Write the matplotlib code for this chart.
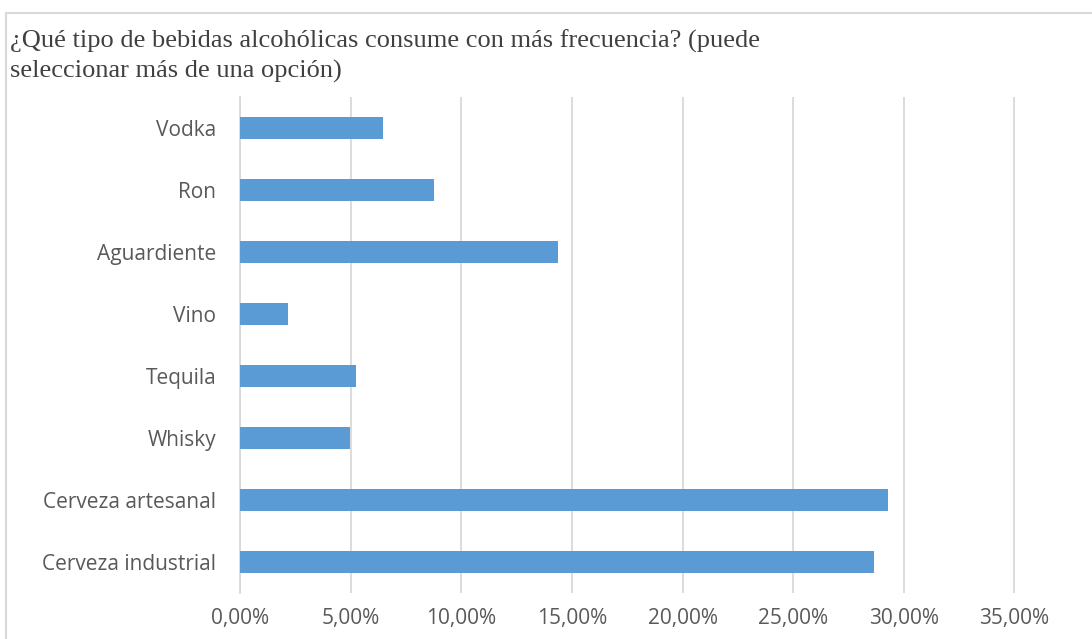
import matplotlib.pyplot as plt
from matplotlib.patches import Rectangle
from matplotlib.ticker import FuncFormatter, MultipleLocator

# data (percent), bottom to top
categorias = ['Cerveza industrial', 'Cerveza artesanal', 'Whisky', 'Tequila',
              'Vino', 'Aguardiente', 'Ron', 'Vodka']
porcentajes = [28.66, 29.30, 4.98, 5.25, 2.19, 14.36, 8.75, 6.48]
titulo = ['¿Qué tipo de bebidas alcohólicas consume con más frecuencia? (puede',
          'seleccionar más de una opción)']

plt.rcParams['font.family'] = ['Open Sans', 'DejaVu Sans']

fig = plt.figure(figsize=(10.92, 6.39), dpi=100)
ax = fig.add_axes([240/1092, 1-593/639, (1014.5-240)/1092, (593-97)/639])

# outer chart frame (cut off at right and bottom like the reference)
fig.patches.append(Rectangle((6/1092, -0.1), 1.2, 1-13/639+0.1,
                             transform=fig.transFigure, fill=False,
                             edgecolor='#d9d9d9', linewidth=1.5))

y = range(len(categorias))
ax.barh(y, porcentajes, height=0.35, color='#5b9bd5', zorder=3)

ax.set_xlim(0, 35)
ax.set_ylim(-0.5, len(categorias)-0.5)
ax.xaxis.set_major_locator(MultipleLocator(5))
ax.xaxis.set_major_formatter(FuncFormatter(lambda v, p: f'{v:.2f}'.replace('.', ',') + '%'))
ax.set_yticks(list(y))
ax.set_yticklabels(categorias)
ax.grid(axis='x', color='#d9d9d9', linewidth=1.3, zorder=0)
for s in ['top', 'right', 'bottom']:
    ax.spines[s].set_visible(False)
ax.spines['left'].set_color('#d9d9d9')
ax.spines['left'].set_linewidth(1.3)
ax.tick_params(axis='both', length=0, labelsize=15, colors='#595959')
ax.tick_params(axis='y', pad=17)
ax.tick_params(axis='x', pad=11)

# title, two lines placed on their baselines
for linea, base in zip(titulo, [48, 78]):
    fig.text(10/1092, 1-base/639, linea, ha='left', va='baseline', fontsize=19,
             family='Liberation Serif', color='#404040')

fig.savefig('out.png', dpi=100)
